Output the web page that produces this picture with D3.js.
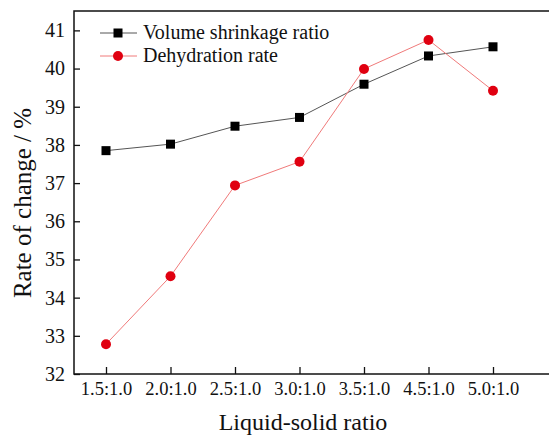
<!DOCTYPE html>
<meta charset="utf-8">
<style>
  body { margin: 0; background: #fff; overflow: hidden; }
  text { font-family: "Liberation Serif", "Times New Roman", serif; fill: #111; }
</style>
<body>
<svg width="549" height="436"></svg>
</body>
<script src="https://cdn.jsdelivr.net/npm/d3@7"></script>
<script>
    let categories = ["1.5:1.0", "2.0:1.0", "2.5:1.0", "3.0:1.0", "3.5:1.0", "4.5:1.0", "5.0:1.0"];
    let volume_shrinkage = [37.85, 38.02, 38.49, 38.72, 39.59, 40.33, 40.57];
    let dehydration = [32.78, 34.56, 36.94, 37.56, 39.99, 40.75, 39.42];
    let y_ticks = [32, 33, 34, 35, 36, 37, 38, 39, 40, 41];

    var svg = d3.select("svg");

    // frame: right edge runs off the picture
    let frame_left = 74, frame_top = 11, frame_right = 600, frame_bottom = 374;

    var x = d3.scalePoint()
        .domain(categories)
        .range([106, 493]);

    var y = d3.scaleLinear()
        .domain([32, 41.5])
        .range([frame_bottom, frame_bottom - 9.5 * 38.18]);

    // frame box
    svg.append("rect")
        .attr("x", frame_left).attr("y", frame_top)
        .attr("width", frame_right - frame_left).attr("height", frame_bottom - frame_top)
        .attr("fill", "none").attr("stroke", "#111").attr("stroke-width", 1.5);

    var xAxis = svg.append("g")
        .attr("transform", "translate(0," + frame_bottom + ")")
        .call(d3.axisBottom(x).tickSizeInner(-7).tickSizeOuter(0).tickPadding(8));
    xAxis.select(".domain").remove();
    xAxis.selectAll("line").attr("stroke", "#111").attr("stroke-width", 1.3);
    xAxis.selectAll("text").style("font-size", "18.5px").attr("fill", "#111");

    var yAxis = svg.append("g")
        .attr("transform", "translate(" + frame_left + ",0)")
        .call(d3.axisLeft(y).tickValues(y_ticks).tickSizeInner(-6).tickSizeOuter(0).tickPadding(9));
    yAxis.select(".domain").remove();
    yAxis.selectAll("line").attr("stroke", "#111").attr("stroke-width", 1.3);
    yAxis.selectAll("text").style("font-size", "20px").attr("fill", "#111");

    var line = d3.line()
        .x(function(d, i) { return x(categories[i]); })
        .y(function(d) { return y(d); });

    svg.append("path")
        .datum(volume_shrinkage)
        .attr("d", line)
        .attr("fill", "none").attr("stroke", "#555").attr("stroke-width", 1);

    svg.append("path")
        .datum(dehydration)
        .attr("d", line)
        .attr("fill", "none").attr("stroke", "#f07a7a").attr("stroke-width", 1);

    svg.append("g").selectAll("rect")
        .data(volume_shrinkage)
        .enter().append("rect")
            .attr("x", function(d, i) { return x(categories[i]) - 4.5; })
            .attr("y", function(d) { return y(d) - 4.5; })
            .attr("width", 9).attr("height", 9)
            .attr("fill", "#000");

    svg.append("g").selectAll("circle")
        .data(dehydration)
        .enter().append("circle")
            .attr("cx", function(d, i) { return x(categories[i]); })
            .attr("cy", function(d) { return y(d); })
            .attr("r", 5)
            .attr("fill", "#e00010");

    // legend
    let legend = svg.append("g");
    legend.append("line").attr("x1", 100).attr("x2", 137).attr("y1", 33).attr("y2", 33)
        .attr("stroke", "#555").attr("stroke-width", 1);
    legend.append("rect").attr("x", 113.5).attr("y", 28.5).attr("width", 9).attr("height", 9).attr("fill", "#000");
    legend.append("text").attr("x", 143).attr("y", 32).attr("dy", "0.35em")
        .style("font-size", "20px").text("Volume shrinkage ratio");
    legend.append("line").attr("x1", 100).attr("x2", 137).attr("y1", 56).attr("y2", 56)
        .attr("stroke", "#f07a7a").attr("stroke-width", 1);
    legend.append("circle").attr("cx", 118).attr("cy", 56).attr("r", 5).attr("fill", "#e00010");
    legend.append("text").attr("x", 143).attr("y", 55).attr("dy", "0.35em")
        .style("font-size", "20px").text("Dehydration rate");

    // axis titles
    svg.append("text")
        .attr("x", 303).attr("y", 430)
        .attr("text-anchor", "middle")
        .style("font-size", "24px")
        .text("Liquid-solid ratio");

    svg.append("text")
        .attr("transform", "translate(31,203) rotate(-90)")
        .attr("text-anchor", "middle")
        .style("font-size", "25px")
        .text("Rate of change / %");
</script>
